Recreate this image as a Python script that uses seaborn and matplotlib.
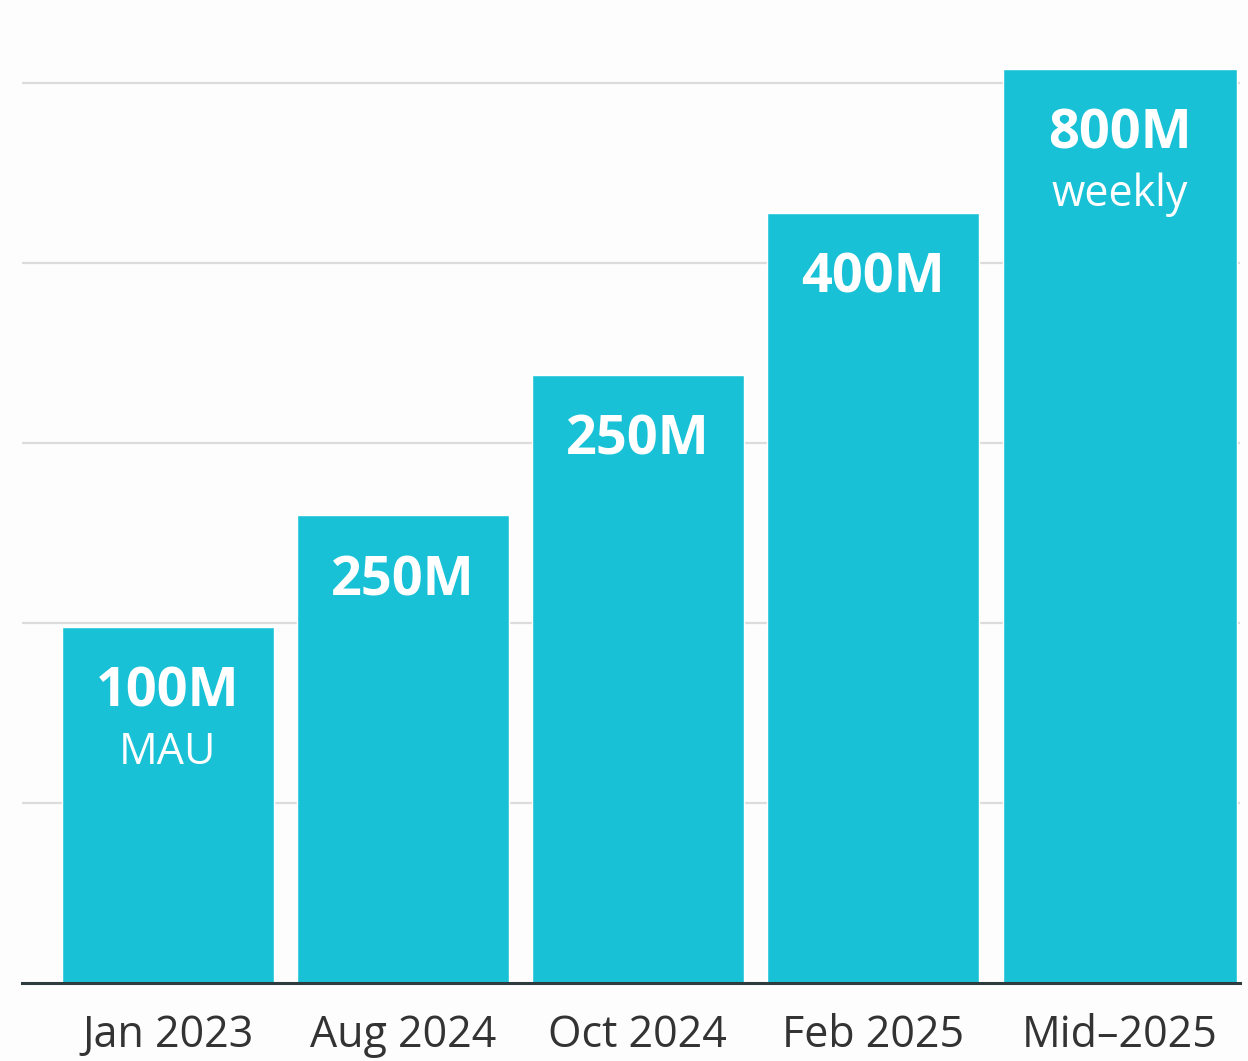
import matplotlib
matplotlib.use("Agg")
import matplotlib.pyplot as plt
import seaborn as sns
import pandas as pd

# ---- data ----
periods = ["Jan 2023", "Aug 2024", "Oct 2024", "Feb 2025", "Mid–2025"]
bar_heights = [198, 260, 338, 428, 508]
value_labels = ["100M", "250M", "250M", "400M", "800M"]
sub_labels = ["MAU", "", "", "", "weekly"]
grid_ticks = [100, 200, 300, 400, 500]

df = pd.DataFrame({"period": periods, "height": bar_heights})

sns.set_theme(style="white")
plt.rcParams["font.family"] = ["Open Sans", "DejaVu Sans"]

BAR = "#19C1D6"
BG = "#FDFDFD"

fig = plt.figure(figsize=(12.48, 10.61), dpi=100, facecolor=BG)
ax = fig.add_axes([22 / 1248, 1 - 983 / 1061, 1218 / 1248, (983 - 11) / 1061])
ax.set_facecolor(BG)

sns.barplot(data=df, x="period", y="height", color=BAR, saturation=1,
            width=0.9, ax=ax)

# last bar is wider and shifted slightly right in the reference
LAST_SHIFT = 0.05
last = ax.patches[len(periods) - 1]
cx = last.get_x() + last.get_width() / 2 + LAST_SHIFT
last.set_width(0.996)
last.set_x(cx - 0.498)
tick_pos = list(range(len(periods)))
tick_pos[-1] += LAST_SHIFT
ax.set_xticks(tick_pos)
ax.set_xticklabels(periods)

ax.set_xlim(-0.621, 4.562)
ax.set_ylim(0, 540)
ax.set_yticks(grid_ticks)
ax.set_yticklabels([])
ax.yaxis.grid(True, color="#DCDCDC", linewidth=1.6)
ax.set_axisbelow(True)

for s in ["top", "right", "left"]:
    ax.spines[s].set_visible(False)
ax.spines["bottom"].set_color("#2E3B3E")
ax.spines["bottom"].set_linewidth(2.2)

ax.set_xlabel("")
ax.set_ylabel("")
ax.tick_params(axis="x", length=0, pad=22, labelsize=31, labelcolor="#333333")
ax.tick_params(axis="y", length=0)

for i, (h, v, s) in enumerate(zip(bar_heights, value_labels, sub_labels)):
    x = tick_pos[i]
    ax.annotate(v, xy=(x, h), xytext=(0, -66), textcoords="offset pixels",
                ha="center", va="center", color="white", fontsize=39,
                fontweight="bold")
    if s:
        ax.annotate(s, xy=(x, h), xytext=(0, -126), textcoords="offset pixels",
                    ha="center", va="center", color="white", fontsize=31)

fig.savefig("out.png", dpi=100, facecolor=BG)
